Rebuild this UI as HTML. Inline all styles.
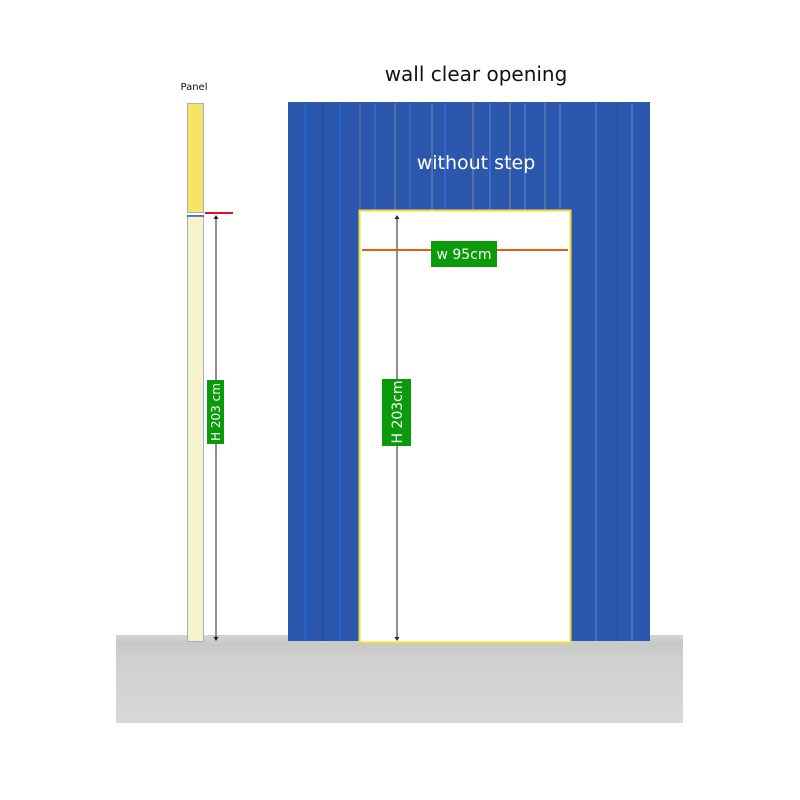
<!DOCTYPE html>
<html><head><style>body{margin:0;background:#fff}svg{display:block}</style></head><body>
<svg width="800" height="800" viewBox="0 0 800 800" xmlns="http://www.w3.org/2000/svg" font-family="'DejaVu Sans','Liberation Sans',sans-serif">
<defs>
<linearGradient id="fl" x1="0" y1="0" x2="0" y2="1"><stop offset="0" stop-color="#d4d4d4"/><stop offset="0.1" stop-color="#c8c8c8"/><stop offset="0.3" stop-color="#d0d0d0"/><stop offset="1" stop-color="#d8d8d8"/></linearGradient>
</defs>
<rect x="116" y="635" width="567" height="88" fill="url(#fl)"/>
<text x="476" y="81" font-size="20" text-anchor="middle" fill="#111">wall clear opening</text>
<text x="194" y="90" font-size="10" text-anchor="middle" fill="#111">Panel</text>
<!-- wall -->
<rect x="288" y="102" width="362" height="539" fill="#2b57ad"/>
<g stroke-width="2">
<line x1="305" y1="103" x2="305" y2="641" stroke="#1e63d0"/>
<line x1="323" y1="103" x2="323" y2="641" stroke="#2050a0"/>
<line x1="340" y1="103" x2="340" y2="641" stroke="#1e63d0"/>
<line x1="360" y1="103" x2="360" y2="210" stroke="#4a66a8"/>
<line x1="375" y1="103" x2="375" y2="210" stroke="#3563c8"/>
<line x1="395" y1="103" x2="395" y2="210" stroke="#5570ad"/>
<line x1="410" y1="103" x2="410" y2="210" stroke="#3563c8"/>
<line x1="432" y1="103" x2="432" y2="210" stroke="#5570ad"/>
<line x1="445" y1="103" x2="445" y2="210" stroke="#3563c8"/>
<line x1="473" y1="103" x2="473" y2="210" stroke="#5570ad"/>
<line x1="490" y1="103" x2="490" y2="210" stroke="#3d6ed0"/>
<line x1="510" y1="103" x2="510" y2="210" stroke="#5570ad"/>
<line x1="525" y1="103" x2="525" y2="210" stroke="#3d6ed0"/>
<line x1="545" y1="103" x2="545" y2="210" stroke="#5570ad"/>
<line x1="560" y1="103" x2="560" y2="210" stroke="#3d6ed0"/>
<line x1="582" y1="103" x2="582" y2="641" stroke="#2a55a8"/>
<line x1="596" y1="103" x2="596" y2="641" stroke="#3d6ed0"/>
<line x1="617" y1="103" x2="617" y2="641" stroke="#2a50a0"/>
<line x1="632" y1="103" x2="632" y2="641" stroke="#3d6ed0"/>
</g>
<text x="476" y="169" font-size="19" text-anchor="middle" fill="#fff">without step</text>
<rect x="359.5" y="210.5" width="211" height="432" fill="#fff" stroke="#f0dc3c" stroke-width="2"/>
<!-- panel -->
<rect x="187.5" y="103.5" width="16" height="109" fill="#f7e463" stroke="#9fb0d8"/>
<rect x="187.5" y="215.5" width="16" height="426" fill="#f6f2cc" stroke="#9fb0d8"/>
<line x1="187" y1="216" x2="204" y2="216" stroke="#3a5aa8" stroke-width="1.5"/>
<line x1="205" y1="213" x2="233" y2="213" stroke="#e0101a" stroke-width="2"/>
<!-- left dim -->
<line x1="216" y1="218" x2="216" y2="638" stroke="#222"/>
<path d="M216 215 l-2.5 4 h5z M216 641 l-2.5 -4 h5z" fill="#222"/>
<rect x="207" y="380" width="17" height="64" fill="#0a9a0a"/>
<text transform="translate(220,412) rotate(-90)" font-size="12" text-anchor="middle" fill="#fff">H 203 cm</text>
<!-- inner dim -->
<line x1="397" y1="218" x2="397" y2="638" stroke="#222"/>
<path d="M397 215 l-2.5 4 h5z M397 641 l-2.5 -4 h5z" fill="#222"/>
<line x1="362" y1="250" x2="568" y2="250" stroke="#e85a10" stroke-width="2"/>
<rect x="382" y="379" width="29" height="67" fill="#0a9a0a"/>
<text transform="translate(402,412) rotate(-90)" font-size="14" text-anchor="middle" fill="#fff">H 203cm</text>
<rect x="431" y="241" width="66" height="26" fill="#0a9a0a"/>
<text x="464" y="259" font-size="14" text-anchor="middle" fill="#fff">w 95cm</text>
</svg>
</body></html>
